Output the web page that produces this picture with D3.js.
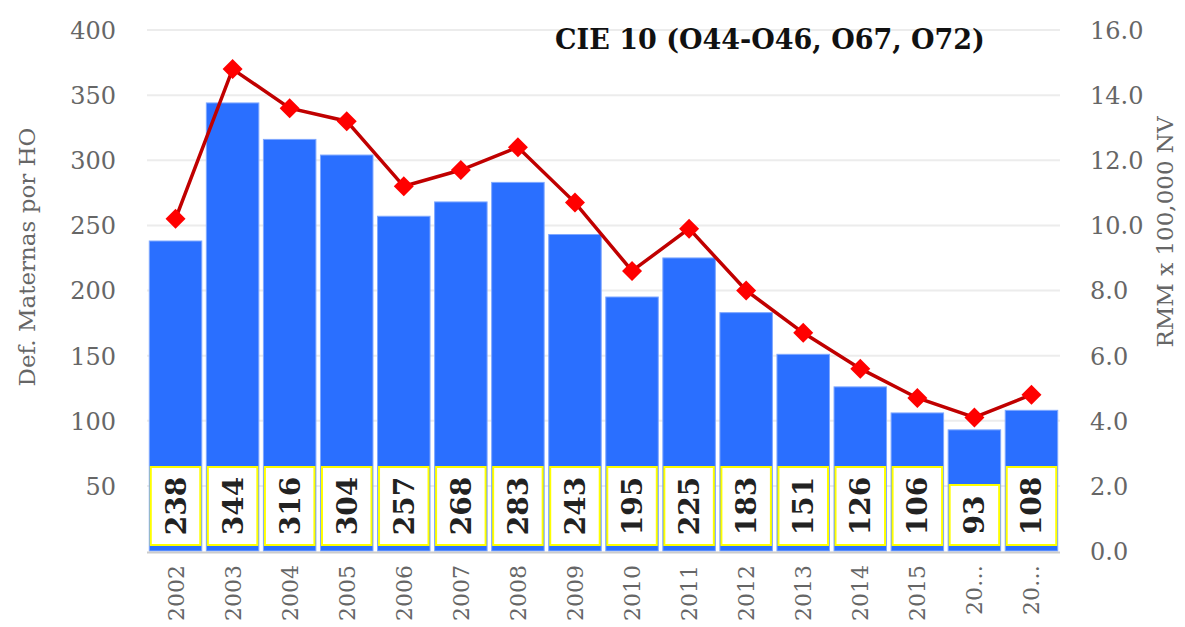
<!DOCTYPE html>
<meta charset="utf-8">
<script src="https://d3js.org/d3.v7.min.js"></script>
<style>
  body { margin: 0; background: #fff; }
  text { font-family: "DejaVu Serif", serif; }
</style>
<div id="dataviz"></div>
<script>

var years = ["2002","2003","2004","2005","2006","2007","2008","2009","2010","2011","2012","2013","2014","2015","2016","2017"];
var yearLabels = ["2002","2003","2004","2005","2006","2007","2008","2009","2010","2011","2012","2013","2014","2015","20…","20…"];
var deaths = [238,344,316,304,257,268,283,243,195,225,183,151,126,106,93,108];
var rmm = [10.2,14.8,13.6,13.2,11.2,11.7,12.4,10.7,8.6,9.9,8.0,6.7,5.6,4.7,4.1,4.8];
var leftTicks = [50,100,150,200,250,300,350,400];
var rightTicks = [0,2,4,6,8,10,12,14,16];

var W = 1185, H = 627;
var plotLeft = 147, plotRight = 1060, plotTop = 30, plotBottom = 551;

var svg = d3.select("#dataviz").append("svg")
    .attr("width", W).attr("height", H);

var x = d3.scaleBand().domain(years).range([plotLeft, plotRight]).paddingInner(0.08).paddingOuter(0.04);
var y = d3.scaleLinear().domain([0, 400]).range([plotBottom, plotTop]);
var y2 = d3.scaleLinear().domain([0, 16]).range([plotBottom, plotTop]);

// grid
svg.append("g").selectAll("line").data(leftTicks).join("line")
    .attr("x1", plotLeft).attr("x2", plotRight)
    .attr("y1", function(d) { return y(d) }).attr("y2", function(d) { return y(d) })
    .attr("stroke", "#ececec").attr("stroke-width", 2);

// left axis
var gl = svg.append("g").attr("transform", "translate(" + (plotLeft - 31) + ",0)")
    .call(d3.axisLeft(y).tickValues(leftTicks).tickSize(0).tickPadding(0));
gl.select(".domain").remove();
gl.selectAll("text").attr("font-size", 24).attr("fill", "#666")
    .style("font-family", "DejaVu Serif").attr("dy", "0.35em");

// right axis
var gr = svg.append("g").attr("transform", "translate(" + (plotRight + 30) + ",0)")
    .call(d3.axisRight(y2).tickValues(rightTicks).tickSize(0).tickPadding(0).tickFormat(d3.format(".1f")));
gr.select(".domain").remove();
gr.selectAll("text").attr("font-size", 24).attr("fill", "#666")
    .style("font-family", "DejaVu Serif").attr("dy", "0.35em");

// axis titles
svg.append("text")
    .attr("transform", "translate(35,257) rotate(-90)")
    .attr("text-anchor", "middle").attr("font-size", 23).attr("fill", "#666")
    .text("Def. Maternas por HO");
svg.append("text")
    .attr("transform", "translate(1173,232) rotate(-90)")
    .attr("text-anchor", "middle").attr("font-size", 23).attr("fill", "#666")
    .text("RMM x 100,000 NV");

// bars
svg.append("g").selectAll("rect").data(deaths).join("rect")
    .attr("x", function(d, i) { return x(years[i]) })
    .attr("width", x.bandwidth())
    .attr("y", function(d) { return y(d) })
    .attr("height", function(d) { return plotBottom - y(d) })
    .attr("fill", "#2a6fff")
    .attr("stroke", "#7fa8ff").attr("stroke-width", 1);

// bottom axis line
svg.append("line")
    .attr("x1", plotLeft).attr("x2", plotRight)
    .attr("y1", plotBottom + 1.5).attr("y2", plotBottom + 1.5)
    .attr("stroke", "#ccc").attr("stroke-width", 2);

// x labels
svg.append("g").selectAll("text").data(yearLabels).join("text")
    .attr("transform", function(d, i) {
      return "translate(" + (x(years[i]) + x.bandwidth() / 2 + 8) + ",565) rotate(-90)";
    })
    .attr("text-anchor", "end").attr("font-size", 22).attr("fill", "#666")
    .text(function(d) { return d });

// data labels
var lab = svg.append("g").selectAll("g").data(deaths).join("g")
    .attr("transform", function(d, i) { return "translate(" + (x(years[i]) + x.bandwidth() / 2) + ",0)" });
lab.append("rect")
    .attr("x", function() { return -x.bandwidth() / 2 + 1.5 })
    .attr("width", x.bandwidth() - 3)
    .attr("y", function(d) { return d < 100 ? 485 : 467 })
    .attr("height", function(d) { return d < 100 ? 60 : 78 })
    .attr("fill", "#fff").attr("stroke", "#ffff00").attr("stroke-width", 2);
lab.append("text")
    .attr("transform", function(d) { return "translate(10," + (d < 100 ? 515 : 506) + ") rotate(-90)" })
    .attr("text-anchor", "middle").attr("font-size", 28).attr("font-weight", "bold")
    .attr("fill", "#222")
    .text(function(d) { return d });

// line
svg.append("path")
    .datum(rmm)
    .attr("fill", "none").attr("stroke", "#c00000").attr("stroke-width", 3.5)
    .attr("d", d3.line()
      .x(function(d, i) { return x(years[i]) + x.bandwidth() / 2 })
      .y(function(d) { return y2(d) }));

svg.append("g").selectAll("path").data(rmm).join("path")
    .attr("transform", function(d, i) {
      return "translate(" + (x(years[i]) + x.bandwidth() / 2) + "," + y2(d) + ")";
    })
    .attr("d", "M0,-10L10,0L0,10L-10,0Z")
    .attr("fill", "#ff0000");

// title
svg.append("text")
    .attr("x", 770).attr("y", 49)
    .attr("text-anchor", "middle").attr("font-size", 27).attr("font-weight", "bold")
    .attr("fill", "#111")
    .text("CIE 10 (O44-O46, O67, O72)");

</script>
